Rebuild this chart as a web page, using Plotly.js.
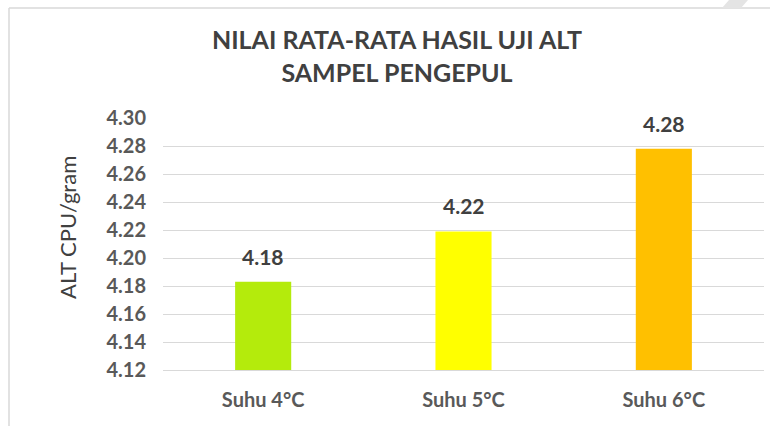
<!DOCTYPE html>
<html>
<head>
<meta charset="utf-8">
<script src="https://cdn.plot.ly/plotly-3.0.1.min.js"></script>
<style>
  html, body { margin: 0; padding: 0; background: #ffffff; }
  #chart { width: 770px; height: 426px; }
</style>
</head>
<body>
<div id="chart"></div>
<script>
const categories = ['Suhu 4°C', 'Suhu 5°C', 'Suhu 6°C'];
const altValues = [4.183, 4.219, 4.278];
const valueLabels = ['4.18', '4.22', '4.28'];
const barColors = ['#b4eb0c', '#ffff00', '#ffc000'];
const yTickValues = [4.12, 4.14, 4.16, 4.18, 4.20, 4.22, 4.24, 4.26, 4.28, 4.30];
const yTickLabels = ['4.12', '4.14', '4.16', '4.18', '4.20', '4.22', '4.24', '4.26', '4.28', '4.30'];
const chartTitle = 'NILAI RATA-RATA HASIL UJI ALT<br>SAMPEL PENGEPUL';
const yTitle = 'ALT CPU/gram';

const FONT = 'Lato, "Open Sans", "DejaVu Sans", sans-serif';

const trace = {
  type: 'bar',
  x: categories,
  y: altValues,
  width: 0.28,
  marker: { color: barColors, line: { width: 0 } },
  hoverinfo: 'x+y'
};

const labelAnnotations = categories.map((c, i) => ({
  x: c, y: altValues[i], xref: 'x', yref: 'y',
  text: '<b>' + valueLabels[i] + '</b>',
  showarrow: false, yanchor: 'bottom', yshift: 11,
  font: { family: FONT, size: 21, color: '#404040' }
}));

const yTitleAnnotation = {
  text: yTitle, xref: 'paper', yref: 'paper',
  x: (67 - 163) / 601, y: (370 - 228) / 252,
  xanchor: 'center', yanchor: 'middle', textangle: -90, showarrow: false,
  font: { family: FONT, size: 22, color: '#404040' }
};

const layout = {
  width: 770, height: 426,
  margin: { l: 163, r: 6, t: 118, b: 56 },
  paper_bgcolor: '#ffffff',
  plot_bgcolor: '#ffffff',
  showlegend: false,
  title: {
    text: '<b>' + chartTitle + '</b>',
    x: 397 / 770, xref: 'container', xanchor: 'center',
    y: 1 - 49 / 426, yref: 'container', yanchor: 'top',
    font: { family: FONT, size: 25, color: '#404040' }
  },
  xaxis: {
    type: 'category',
    showgrid: false, zeroline: false,
    showline: true, linecolor: '#d9d9d9', linewidth: 1,
    ticks: '', ticklabelstandoff: 12,
    tickfont: { family: FONT, size: 20, color: '#595959', weight: 'bold' }
  },
  yaxis: {
    range: [4.12, 4.30],
    tickvals: yTickValues, ticktext: yTickLabels,
    showgrid: true, gridcolor: '#d9d9d9', gridwidth: 1,
    zeroline: false, showline: false,
    ticks: '', ticklabelstandoff: 16,
    tickfont: { family: FONT, size: 20, color: '#595959', weight: 'bold' }
  },
  annotations: labelAnnotations.concat([yTitleAnnotation]),
  shapes: [
    { type: 'line', xref: 'paper', yref: 'paper',
      x0: (9 - 163) / 601, x1: (772 - 163) / 601, y0: (370 - 8) / 252, y1: (370 - 8) / 252,
      line: { color: '#d9d9d9', width: 1.5 } },
    { type: 'line', xref: 'paper', yref: 'paper',
      x0: (9 - 163) / 601, x1: (9 - 163) / 601, y0: (370 - 8) / 252, y1: (370 - 430) / 252,
      line: { color: '#d9d9d9', width: 1.5 } },
    { type: 'path', xref: 'paper', yref: 'paper',
      path: 'M ' + (722 - 163) / 601 + ' ' + (370 - 8) / 252 +
            ' L ' + (729 - 163) / 601 + ' ' + (370 - 0) / 252 +
            ' L ' + (748 - 163) / 601 + ' ' + (370 - 0) / 252 +
            ' L ' + (741 - 163) / 601 + ' ' + (370 - 8) / 252 + ' Z',
      fillcolor: '#e4e4e4', line: { width: 0 } }
  ]
};

Plotly.newPlot('chart', [trace], layout, { displayModeBar: false, staticPlot: true });
</script>
</body>
</html>
